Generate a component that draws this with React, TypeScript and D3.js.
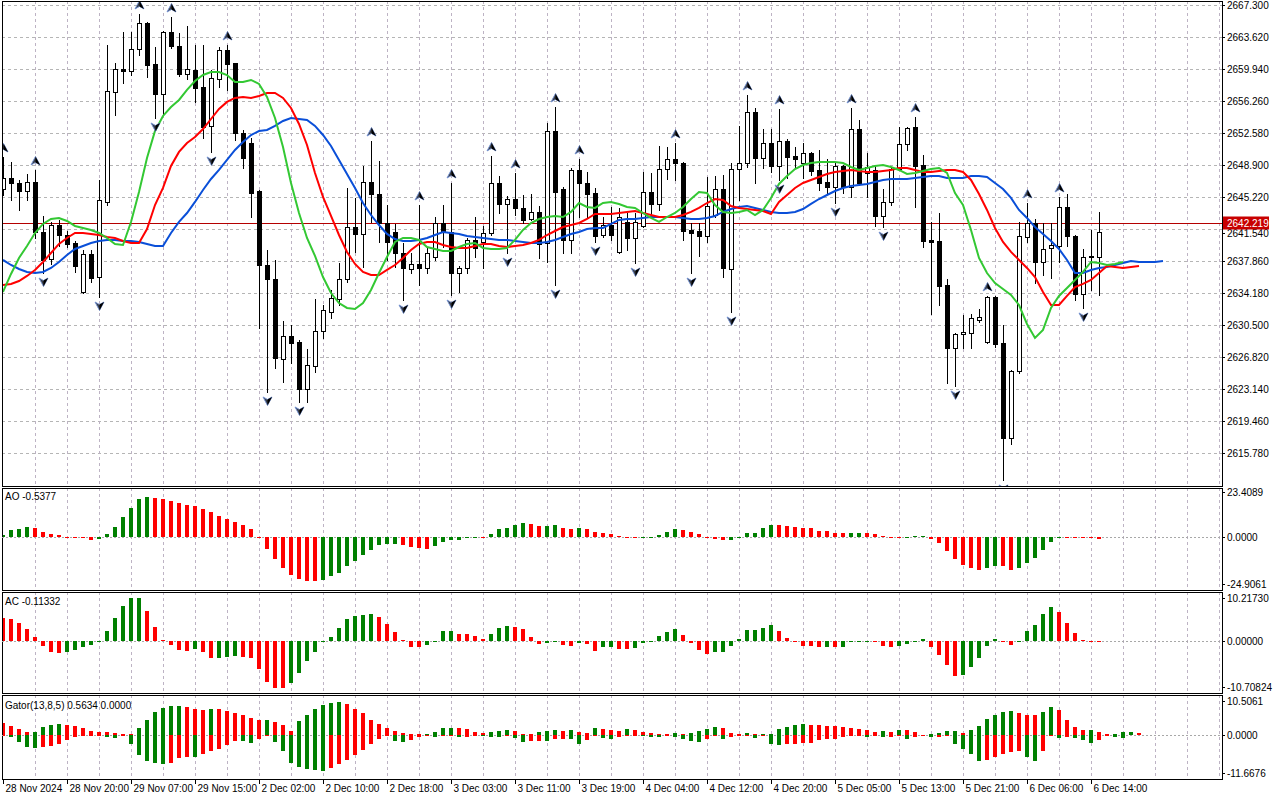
import * as d3 from "d3";

// ---- data (XAUUSD H1, 28 Nov - 6 Dec 2024) ----
const TIME_LABELS = [
  "28 Nov 2024", "28 Nov 20:00", "29 Nov 07:00", "29 Nov 15:00", "2 Dec 02:00", "2 Dec 10:00",
  "2 Dec 18:00", "3 Dec 03:00", "3 Dec 11:00", "3 Dec 19:00", "4 Dec 04:00", "4 Dec 12:00",
  "4 Dec 20:00", "5 Dec 05:00", "5 Dec 13:00", "5 Dec 21:00", "6 Dec 06:00", "6 Dec 14:00",
];
const PRICE_TICKS = [
  2667.3, 2663.62, 2659.94, 2656.26, 2652.58, 2648.9, 2645.22, 2641.54, 2637.86, 2634.18,
  2630.5, 2626.82, 2623.14, 2619.46, 2615.78,
];
const BID = 2642.219;

const OPEN = [
  2646.14, 2647.41, 2646.83, 2645.91, 2646.95, 2641.2, 2638.09, 2642.0, 2640.85, 2639.93,
  2634.3, 2638.67, 2636.02, 2644.65, 2657.3, 2659.94, 2659.71, 2662.24, 2665.23, 2660.52,
  2657.07, 2664.2, 2662.59, 2659.37, 2659.83, 2657.87, 2653.39, 2658.79, 2662.13, 2660.63,
  2652.58, 2651.43, 2645.91, 2637.4, 2635.79, 2626.59, 2629.24, 2628.55, 2623.14, 2625.79,
  2629.81, 2632.0, 2633.49, 2635.79, 2641.77, 2640.97, 2646.95, 2645.57, 2642.23, 2641.2,
  2638.78, 2636.94, 2637.52, 2637.06, 2638.32, 2642.23, 2641.2, 2636.48, 2637.06, 2640.28,
  2640.05, 2641.08, 2646.83, 2644.42, 2644.99, 2643.96, 2642.69, 2643.5, 2639.93, 2652.81,
  2646.14, 2640.28, 2648.33, 2646.83, 2645.68, 2640.85, 2642.0, 2638.9, 2642.35, 2640.51,
  2641.89, 2645.8, 2644.42, 2648.44, 2649.59, 2649.13, 2641.43, 2641.31, 2640.74, 2643.15,
  2646.14, 2636.94, 2648.44, 2649.13, 2654.99, 2649.71, 2651.43, 2648.79, 2651.66, 2649.94,
  2649.13, 2650.28, 2648.33, 2646.95, 2646.37, 2648.79, 2646.37, 2653.04, 2647.98, 2648.33,
  2643.04, 2644.65, 2648.44, 2651.32, 2653.27, 2648.9, 2640.28, 2640.16, 2635.1, 2627.86,
  2629.47, 2629.58, 2631.08, 2628.55, 2633.72, 2628.43, 2617.51, 2625.21, 2640.62, 2642.23,
  2637.75, 2639.36, 2639.59, 2644.07, 2640.74, 2634.07, 2638.32, 2638.32,
];
const HIGH = [
  2649.82, 2649.25, 2647.18, 2647.87, 2648.33, 2643.04, 2642.35, 2642.58, 2641.31, 2640.16,
  2639.13, 2639.13, 2647.18, 2662.7, 2660.63, 2664.2, 2664.2, 2666.27, 2665.35, 2662.47,
  2664.31, 2665.92, 2664.08, 2664.89, 2662.7, 2662.7, 2659.83, 2662.47, 2662.7, 2660.63,
  2652.93, 2652.01, 2646.03, 2639.13, 2637.98, 2630.96, 2630.5, 2628.78, 2627.74, 2633.49,
  2632.8, 2634.53, 2637.63, 2646.26, 2645.11, 2648.79, 2651.66, 2649.36, 2644.3, 2642.12,
  2639.93, 2638.78, 2644.3, 2639.36, 2642.92, 2644.3, 2646.83, 2637.29, 2640.51, 2642.92,
  2641.89, 2649.94, 2647.64, 2645.34, 2647.98, 2645.45, 2645.57, 2644.19, 2653.73, 2655.57,
  2646.37, 2648.56, 2649.59, 2648.1, 2646.26, 2642.92, 2644.07, 2643.96, 2643.38, 2643.38,
  2648.1, 2647.98, 2651.09, 2650.97, 2651.43, 2649.25, 2642.23, 2642.23, 2647.52, 2647.64,
  2647.75, 2649.13, 2653.39, 2656.95, 2655.46, 2653.04, 2653.04, 2655.34, 2651.89, 2650.97,
  2651.43, 2650.4, 2650.63, 2649.59, 2649.13, 2648.9, 2655.46, 2654.08, 2650.28, 2648.9,
  2646.14, 2648.67, 2653.27, 2653.27, 2654.42, 2650.05, 2642.35, 2643.38, 2635.79, 2629.58,
  2631.65, 2631.77, 2632.34, 2633.84, 2633.84, 2630.5, 2625.33, 2642.35, 2644.53, 2642.69,
  2642.23, 2642.23, 2645.22, 2645.57, 2640.85, 2639.24, 2641.43, 2643.5,
];
const LOW = [
  2645.45, 2644.88, 2643.73, 2644.88, 2640.51, 2636.48, 2637.52, 2639.59, 2639.47, 2636.6,
  2634.18, 2635.45, 2633.72, 2644.3, 2654.65, 2658.33, 2659.25, 2661.55, 2659.02, 2654.31,
  2654.65, 2662.36, 2659.14, 2658.79, 2656.15, 2652.01, 2650.4, 2657.87, 2657.53, 2651.78,
  2648.56, 2642.92, 2630.16, 2622.8, 2625.56, 2623.95, 2626.13, 2621.65, 2621.65, 2625.1,
  2629.01, 2631.31, 2632.8, 2635.45, 2638.9, 2637.17, 2642.35, 2640.05, 2637.98, 2637.17,
  2633.38, 2636.48, 2635.1, 2636.48, 2637.98, 2639.47, 2633.95, 2634.3, 2636.48, 2638.32,
  2637.06, 2640.85, 2643.38, 2638.78, 2643.15, 2642.23, 2642.58, 2638.21, 2637.75, 2635.1,
  2638.78, 2638.78, 2642.92, 2642.92, 2640.05, 2640.62, 2640.28, 2638.78, 2639.13, 2637.63,
  2641.77, 2643.27, 2643.73, 2647.29, 2647.18, 2640.28, 2636.48, 2638.44, 2640.05, 2642.9,
  2636.02, 2632.0, 2644.88, 2648.67, 2646.83, 2648.56, 2648.1, 2647.18, 2647.41, 2648.67,
  2647.41, 2647.75, 2646.03, 2645.68, 2644.53, 2645.68, 2645.22, 2646.6, 2645.22, 2641.89,
  2641.77, 2644.3, 2648.33, 2650.63, 2644.07, 2639.47, 2631.77, 2632.8, 2623.83, 2623.49,
  2627.86, 2627.86, 2630.85, 2628.43, 2627.97, 2612.68, 2616.82, 2624.98, 2640.05, 2635.33,
  2636.25, 2635.91, 2637.75, 2639.59, 2633.38, 2632.46, 2634.53, 2633.95,
];
const CLOSE = [
  2647.41, 2646.83, 2645.91, 2646.95, 2641.2, 2637.98, 2642.0, 2640.85, 2639.82, 2637.29,
  2638.67, 2635.91, 2644.88, 2657.41, 2659.94, 2659.71, 2662.24, 2665.23, 2660.4, 2657.07,
  2664.2, 2662.59, 2659.37, 2659.94, 2657.76, 2653.27, 2658.91, 2662.13, 2660.52, 2652.58,
  2649.71, 2645.68, 2637.4, 2635.79, 2626.71, 2629.24, 2628.43, 2623.14, 2625.9, 2629.81,
  2632.23, 2633.61, 2635.79, 2641.77, 2640.97, 2646.95, 2645.57, 2642.23, 2640.05, 2638.78,
  2637.06, 2637.52, 2637.06, 2638.78, 2642.23, 2641.2, 2636.48, 2637.06, 2640.28, 2639.36,
  2641.08, 2646.83, 2644.42, 2644.99, 2643.96, 2642.58, 2643.5, 2639.82, 2652.81, 2645.8,
  2640.28, 2648.33, 2646.83, 2645.57, 2640.74, 2642.0, 2640.85, 2642.92, 2640.51, 2642.35,
  2645.8, 2644.42, 2648.44, 2649.59, 2649.13, 2641.31, 2641.08, 2640.74, 2644.19, 2646.14,
  2637.06, 2648.44, 2649.13, 2654.99, 2649.71, 2651.43, 2648.79, 2651.66, 2649.82, 2649.59,
  2650.28, 2648.21, 2646.83, 2646.37, 2648.79, 2646.37, 2653.04, 2646.83, 2648.67, 2643.04,
  2644.65, 2648.44, 2651.32, 2653.16, 2648.79, 2640.16, 2640.05, 2634.99, 2627.86, 2629.47,
  2629.7, 2631.31, 2631.42, 2633.72, 2628.32, 2617.51, 2625.21, 2640.74, 2642.23, 2637.75,
  2639.24, 2639.7, 2644.07, 2640.74, 2634.07, 2638.32, 2638.44, 2641.2,
];

// Alligator (jaw shifted 8 bars, teeth 5, lips 3 past the last candle)
const JAW = [
  2637.98, 2637.4, 2636.94, 2636.6, 2636.48, 2636.6, 2637.06, 2637.75, 2638.55, 2639.24,
  2639.59, 2639.93, 2640.16, 2640.28, 2640.28, 2640.16, 2640.16, 2640.05, 2639.82, 2639.59,
  2639.59, 2641.08, 2642.35, 2643.38, 2644.65, 2646.03, 2647.29, 2648.33, 2649.48, 2650.63,
  2651.55, 2652.35, 2652.81, 2652.93, 2653.39, 2653.96, 2654.31, 2654.19, 2654.08, 2653.39,
  2652.35, 2651.09, 2649.48, 2647.87, 2646.26, 2644.53, 2643.15, 2642.0, 2640.97, 2640.39,
  2640.16, 2640.16, 2640.28, 2640.51, 2640.85, 2641.2, 2641.08, 2640.97, 2640.74, 2640.62,
  2640.51, 2640.39, 2640.28, 2640.28, 2640.16, 2640.05, 2639.93, 2639.93, 2640.05, 2640.28,
  2640.62, 2640.97, 2641.2, 2641.54, 2641.66, 2641.66, 2642.12, 2642.58, 2642.69, 2642.69,
  2642.81, 2642.92, 2642.92, 2642.92, 2642.92, 2642.81, 2642.69, 2642.69, 2642.81, 2643.04,
  2643.5, 2643.84, 2644.07, 2644.19, 2643.96, 2643.73, 2643.5, 2643.38, 2643.38, 2643.5,
  2643.84, 2644.42, 2644.99, 2645.45, 2645.91, 2646.26, 2646.49, 2646.6, 2646.72, 2646.95,
  2647.18, 2647.29, 2647.29, 2647.29, 2647.41, 2647.52, 2647.64, 2647.64, 2647.41, 2647.41,
  2647.41, 2647.64, 2647.64, 2647.52, 2646.83, 2646.14, 2645.11, 2643.73, 2642.81, 2641.77,
  2640.97, 2640.16, 2639.24, 2637.98, 2636.48, 2636.48, 2636.83, 2637.06, 2637.17, 2637.4,
  2637.63, 2637.86, 2637.75, 2637.75, 2637.75, 2637.86,
];
const TEETH = [
  2635.1, 2635.22, 2635.56, 2636.14, 2636.83, 2637.75, 2638.78, 2639.82, 2640.51, 2641.08,
  2641.08, 2640.97, 2640.85, 2640.62, 2640.51, 2640.16, 2639.93, 2639.93, 2641.54, 2644.3,
  2646.26, 2648.79, 2650.4, 2651.43, 2652.12, 2653.04, 2654.19, 2655.34, 2656.15, 2656.61,
  2656.72, 2656.61, 2656.84, 2657.18, 2657.18, 2656.61, 2655.46, 2653.62, 2651.2, 2647.98,
  2645.22, 2643.04, 2640.85, 2638.9, 2637.52, 2636.6, 2636.25, 2636.25, 2636.83, 2637.4,
  2638.21, 2639.13, 2639.82, 2640.05, 2640.05, 2639.7, 2639.47, 2639.36, 2639.36, 2639.59,
  2639.82, 2639.82, 2639.59, 2639.47, 2639.59, 2639.7, 2639.93, 2640.28, 2640.85, 2641.31,
  2641.77, 2642.0, 2642.23, 2642.69, 2643.27, 2643.27, 2643.27, 2643.38, 2643.5, 2643.61,
  2643.38, 2643.15, 2642.92, 2642.92, 2642.92, 2643.15, 2643.5, 2643.96, 2644.53, 2644.99,
  2644.88, 2644.19, 2643.96, 2643.84, 2643.73, 2643.61, 2643.27, 2644.65, 2645.45, 2646.26,
  2646.83, 2647.18, 2647.52, 2647.87, 2648.1, 2648.21, 2648.33, 2648.21, 2648.1, 2648.1,
  2648.21, 2648.33, 2648.56, 2648.56, 2648.33, 2648.1, 2648.1, 2648.21, 2648.33, 2648.33,
  2648.1, 2647.18, 2645.57, 2643.73, 2641.66, 2640.05, 2638.9, 2637.98, 2637.06, 2636.02,
  2634.3, 2632.8, 2632.8, 2633.84, 2634.87, 2635.22, 2635.68, 2636.48, 2637.29, 2637.17,
  2637.06, 2637.17, 2637.29,
];
const LIPS = [
  2634.3, 2636.37, 2638.21, 2639.59, 2641.08, 2642.12, 2642.69, 2642.81, 2642.46, 2641.89,
  2641.66, 2641.43, 2641.08, 2640.51, 2639.82, 2639.7, 2642.35, 2645.8, 2649.71, 2652.81,
  2654.54, 2655.57, 2656.38, 2657.53, 2658.56, 2659.25, 2659.6, 2659.6, 2659.25, 2658.45,
  2658.45, 2658.68, 2658.22, 2656.72, 2654.31, 2650.97, 2646.83, 2643.38, 2640.51, 2638.44,
  2636.02, 2634.18, 2633.03, 2632.46, 2632.34, 2633.03, 2634.53, 2636.48, 2638.32, 2640.05,
  2640.51, 2640.51, 2640.28, 2639.47, 2639.24, 2639.01, 2639.01, 2639.47, 2639.82, 2639.93,
  2639.36, 2639.24, 2639.24, 2639.36, 2640.28, 2641.43, 2642.23, 2642.69, 2642.92, 2643.04,
  2642.92, 2643.5, 2644.53, 2644.07, 2643.96, 2644.53, 2644.65, 2644.42, 2644.07, 2643.96,
  2643.38, 2642.81, 2642.35, 2642.92, 2643.38, 2644.07, 2644.99, 2645.8, 2645.68, 2644.3,
  2643.5, 2643.38, 2643.5, 2643.73, 2643.15, 2643.73, 2645.11, 2646.72, 2647.64, 2648.44,
  2648.9, 2649.13, 2649.25, 2649.25, 2649.25, 2649.13, 2648.67, 2648.33, 2648.56, 2648.79,
  2648.9, 2648.67, 2648.33, 2647.87, 2647.98, 2648.21, 2648.44, 2648.56, 2647.98, 2645.68,
  2644.3, 2641.43, 2638.21, 2636.48, 2635.33, 2634.64, 2633.95, 2632.8, 2630.62, 2629.01,
  2629.93, 2632.46, 2633.84, 2634.76, 2635.68, 2636.6, 2637.75, 2637.63, 2637.4, 2637.52,
  2637.75,
];

const FRACTAL_UP = [0, 4, 17, 21, 28, 46, 52, 56, 61, 64, 69, 72, 84, 93, 97, 106, 114, 123, 128, 132];
const FRACTAL_DOWN = [5, 12, 19, 26, 33, 37, 50, 56, 63, 69, 74, 79, 86, 91, 97, 104, 110, 119, 125, 135];

const AO = [
  1.3, 3.7, 4.2, 5.4, 4.9, 2.9, 1.5, 1.0, 0.2, -0.3,
  -0.4, -1.1, -0.6, 1.5, 5.4, 10.2, 14.6, 19.0, 20.0, 19.3,
  19.0, 18.2, 17.1, 15.8, 15.6, 14.1, 12.4, 10.4, 8.9, 7.5,
  6.0, 4.1, -0.2, -5.9, -10.7, -15.0, -18.5, -20.3, -21.3, -21.4,
  -20.8, -19.0, -17.4, -14.0, -11.5, -8.6, -6.0, -3.7, -3.3, -3.2,
  -3.9, -4.9, -5.4, -5.5, -4.2, -2.3, -1.4, -1.2, -0.2, -0.1,
  -0.3, 1.5, 4.1, 4.9, 6.3, 7.3, 6.8, 5.5, 5.9, 6.0,
  4.7, 4.4, 4.9, 4.2, 2.5, 2.4, 1.8, 0.8, -0.1, -0.2,
  -0.1, 0.1, 1.3, 2.9, 4.4, 3.9, 2.9, 1.5, -0.1, -0.6,
  -1.1, -1.0, 0.0, 2.0, 2.4, 4.6, 6.3, 6.2, 5.8, 5.4,
  4.7, 4.5, 3.4, 3.3, 2.4, 2.0, 2.05, 2.4, 2.35, 1.8,
  0.7, 0.3, 0.0, 0.2, 0.6, 0.65, -0.6, -2.8, -6.5, -10.6,
  -13.7, -14.8, -15.9, -15.0, -14.1, -14.2, -15.9, -14.8, -12.4, -10.1,
  -6.0, -2.1, -0.1, -0.2, -0.3, -0.4, -0.45, -0.5377,
];
const AC = [
  5.0, 4.9, 4.0, 2.6, 0.9, -1.1, -2.2, -2.5, -2.2, -1.9,
  -1.3, -0.8, -0.2, 2.3, 5.1, 7.6, 9.3, 9.35, 6.5, 3.0,
  0.2, -0.8, -1.9, -2.0, -1.6, -2.3, -3.6, -3.55, -3.4, -3.2,
  -3.4, -3.6, -6.0, -8.8, -10.0, -10.05, -9.0, -6.9, -4.3, -2.2,
  0.0, 1.0, 2.9, 4.9, 5.4, 5.6, 5.8, 5.3, 3.7, 2.1,
  0.2, -1.2, -1.3, -0.8, 0.05, 2.2, 2.3, 1.6, 1.55, 1.2,
  0.5, 1.6, 2.9, 3.3, 3.2, 2.6, 0.9, -0.5, -0.3, 0.0,
  -0.8, -1.1, -0.3, -0.6, -2.0, -1.3, -1.25, -1.55, -1.6, -1.5,
  -0.3, 0.15, 1.2, 2.1, 2.6, 1.4, -0.4, -1.8, -2.7, -2.25,
  -2.2, -1.1, 0.6, 2.4, 2.45, 2.9, 3.5, 2.3, 0.8, -0.2,
  -0.9, -0.95, -1.2, -1.15, -1.3, -1.2, -0.2, 0.0, 0.05, -0.1,
  -0.9, -1.3, -1.1, -0.5, 0.1, 0.45, -1.3, -2.9, -5.1, -7.4,
  -7.2, -5.6, -3.6, -1.1, 0.6, -0.1, -0.8, 0.0, 2.2, 3.5,
  5.9, 7.4, 6.3, 3.9, 1.8, 0.2, 0.15, -0.11332,
];
const GATOR_UP = [
  3.1, 2.4, 1.6, 0.7, 0.8, 2.2, 2.6, 2.9, 2.6, 2.5,
  1.8, 1.1, 0.9, 0.8, 0.5, 0.3, 0.25, 1.8, 3.9, 6.1,
  7.2, 7.7, 7.8, 7.5, 6.9, 6.85, 7.1, 6.9, 6.4, 5.9,
  5.3, 4.5, 4.1, 4.15, 3.4, 2.6, 1.1, 3.7, 5.5, 6.9,
  8.2, 8.7, 8.75, 8.4, 7.0, 5.8, 4.1, 2.9, 1.9, 1.1,
  0.4, 0.2, 0.15, 0.3, 0.9, 1.9, 1.95, 1.75, 1.5, 0.7,
  0.5, 0.8, 1.05, 1.2, 1.05, 0.2, 0.1, 0.9, 1.15, 1.2,
  1.15, 1.3, 0.7, 0.6, 1.85, 1.5, 1.2, 1.05, 1.6, 1.3,
  0.8, 0.45, 0.3, 0.2, 0.4, 0.3, 0.45, 1.0, 1.7, 2.1,
  1.8, 0.45, 0.3, 0.5, 0.1, 0.2, 0.3, 1.7, 2.2, 2.6,
  2.9, 2.6, 2.55, 2.5, 2.4, 2.0, 1.8, 1.6, 1.4, 0.9,
  1.05, 0.9, 1.4, 1.3, 0.8, 0.05, 0.25, 0.5, 1.05, 1.06,
  0.5, 1.3, 2.4, 4.2, 5.5, 6.3, 6.35, 5.8, 5.5, 5.3,
  6.3, 7.4, 6.6, 4.0, 2.1, 1.3, 1.35, 0.8, 0.26, 0.27,
  0.8, 0.82, 0.5634,
];
const GATOR_DOWN = [
  -0.3, -0.5, -2.0, -3.3, -3.5, -3.3, -2.9, -2.55, -1.3, -0.45,
  -0.25, -0.1, -0.1, -0.6, -0.9, -0.3, -2.5, -5.45, -7.0, -7.65,
  -7.75, -7.5, -6.3, -6.0, -6.05, -5.3, -4.4, -3.8, -2.8, -1.6,
  -1.7, -2.2, -1.1, -0.2, -1.9, -4.4, -7.5, -8.6, -9.2, -9.4,
  -9.7, -9.0, -7.9, -6.7, -5.4, -4.0, -2.6, -1.2, -0.2, -1.75,
  -2.0, -1.3, -0.5, -0.1, -0.6, -0.2, -0.1, -0.7, -0.6, -0.1,
  -0.2, -0.45, -0.5, -0.1, -0.9, -1.9, -1.6, -1.6, -1.75, -1.2,
  -1.0, -1.05, -2.5, -1.3, -0.2, -0.9, -1.1, -0.6, -0.2, -0.05,
  -0.2, -0.45, -0.6, -0.1, -0.6, -1.0, -1.6, -2.0, -1.2, -0.35,
  -1.2, -0.6, -0.2, -0.05, -0.9, -0.35, -2.55, -2.7, -2.5, -2.4,
  -2.2, -2.1, -1.5, -1.2, -1.05, -0.6, -0.3, -0.1, -0.45, -0.3,
  -0.6, -0.5, -0.1, -1.05, -0.7, -0.05, -0.7, -0.45, -0.05, -2.6,
  -3.7, -5.3, -7.1, -6.8, -6.1, -5.3, -4.75, -4.5, -6.1, -7.1,
  -4.5, -0.2, -0.8, -0.7, -0.8, -1.3, -2.1, -1.3, -0.05, -0.45,
  -0.8,
];

const AO_RANGE = [-24.9061, 23.4089];
const AC_RANGE = [-10.70824, 10.2173];
const GATOR_RANGE = [-11.6676, 10.5061];

// ---- layout ----
const W = 1280;
const H = 800;
const LEFT = 2;
const RIGHT = 1222;
const MAIN = { top: 1, bottom: 486 };
const AO_P = { top: 488, bottom: 590 };
const AC_P = { top: 592, bottom: 693 };
const GT_P = { top: 695, bottom: 779 };

const FONT = "'Liberation Sans', Arial, sans-serif";
const GREEN = "#008000";
const RED = "#ff0000";
const GRID = "#bdb3c4";

const x = d3.scaleLinear().domain([0, 137]).range([3, 1099]);
const yPrice = d3.scaleLinear().domain([2615.78, 2667.3]).range([453, 5]);
const yAO = d3.scaleLinear().domain(AO_RANGE).range([588, 490]);
const yAC = d3.scaleLinear().domain(AC_RANGE).range([691, 594]);
const yGT = d3.scaleLinear().domain(GATOR_RANGE).range([778, 696]);

function risingColor(vals: number[], i: number, firstUp: boolean, useAbs = false) {
  if (i === 0) return firstUp ? GREEN : RED;
  const a = useAbs ? Math.abs(vals[i]) : vals[i];
  const b = useAbs ? Math.abs(vals[i - 1]) : vals[i - 1];
  return a > b ? GREEN : RED;
}

function Histogram({
  values,
  scale,
  firstUp,
  useAbs,
}: {
  values: number[];
  scale: d3.ScaleLinear<number, number>;
  firstUp: boolean;
  useAbs?: boolean;
}) {
  const zero = Math.round(scale(0));
  return (
    <g shapeRendering="crispEdges">
      {values.map((v, i) => {
        const cx = Math.round(x(i));
        const yv = Math.round(scale(v));
        const top = Math.min(zero, yv);
        const h = Math.max(1, Math.abs(yv - zero));
        return (
          <rect
            key={i}
            x={cx - 2}
            y={top}
            width={4}
            height={h}
            fill={risingColor(values, i, firstUp, useAbs)}
          />
        );
      })}
    </g>
  );
}

function PanelFrame({ top, bottom }: { top: number; bottom: number }) {
  const verticals = d3.range(4, 153, 4).map((k) => Math.round(x(k)) + 0.5);
  return (
    <g shapeRendering="crispEdges">
      {verticals.map((vx) => (
        <line
          key={vx}
          x1={vx}
          x2={vx}
          y1={top}
          y2={bottom}
          stroke={GRID}
          strokeDasharray="3,3"
        />
      ))}
      <rect
        x={LEFT + 0.5}
        y={top + 0.5}
        width={RIGHT - LEFT}
        height={bottom - top}
        fill="none"
        stroke="#000"
      />
    </g>
  );
}

// fractal marker: dark arrowhead with a notch, bluish edge
function Arrow({ cx, cy, up }: { cx: number; cy: number; up: boolean }) {
  const s = up ? 1 : -1;
  const d = `M${cx},${cy - 4.5 * s} L${cx + 4.5},${cy + 4 * s} L${cx},${cy + 1.5 * s} L${cx - 4.5},${cy + 4 * s} Z`;
  const right = `M${cx},${cy - 4.5 * s} L${cx + 4.5},${cy + 4 * s} L${cx},${cy + 1.5 * s} Z`;
  return (
    <g>
      <path d={d} fill="#3a3f4a" stroke="#6f8fd0" strokeWidth={0.9} strokeLinejoin="round" />
      <path d={right} fill="#000" />
    </g>
  );
}

function AxisLabels({
  labels,
}: {
  labels: { text: string; y: number }[];
}) {
  return (
    <g fontFamily={FONT} fontSize={10} fill="#000">
      {labels.map((l) => (
        <g key={l.text}>
          <line x1={RIGHT} x2={RIGHT + 3} y1={l.y - 3.5} y2={l.y - 3.5} stroke="#000" />
          <text x={RIGHT + 5} y={l.y}>
            {l.text}
          </text>
        </g>
      ))}
    </g>
  );
}

export default function App() {
  const line = (scaleY: (v: number) => number) =>
    d3
      .line<number>()
      .x((_, i) => x(i))
      .y((d) => scaleY(d));

  const priceLine = line(yPrice);
  const hGrid = PRICE_TICKS.map((p) => Math.round(yPrice(p)) + 0.5);
  const bidY = Math.round(yPrice(BID)) + 0.5;

  return (
    <div style={{ width: W, height: H, background: "#fff" }}>
      <style>{"body{margin:0;}"}</style>
      <svg width={W} height={H} style={{ display: "block", background: "#fff" }}>
        <defs>
          <clipPath id="main-clip">
            <rect x={LEFT + 1} y={MAIN.top + 1} width={RIGHT - LEFT - 1} height={MAIN.bottom - MAIN.top - 1} />
          </clipPath>
          <clipPath id="ind-clip">
            <rect x={LEFT + 1} y={0} width={RIGHT - LEFT - 1} height={H} />
          </clipPath>
        </defs>

        {/* main price panel */}
        <g shapeRendering="crispEdges">
          {hGrid.map((gy) => (
            <line key={gy} x1={LEFT} x2={RIGHT} y1={gy} y2={gy} stroke="#b5b5b5" strokeDasharray="3,3" />
          ))}
        </g>
        <PanelFrame top={MAIN.top} bottom={MAIN.bottom} />

        <g clipPath="url(#main-clip)">
          <line x1={LEFT} x2={RIGHT} y1={bidY} y2={bidY} stroke="#b40000" shapeRendering="crispEdges" />

          <g shapeRendering="crispEdges">
            {OPEN.map((o, i) => {
              const cx = Math.round(x(i));
              const c = CLOSE[i];
              const yo = Math.round(yPrice(o));
              const yc = Math.round(yPrice(c));
              const yh = Math.round(yPrice(HIGH[i]));
              const yl = Math.round(yPrice(LOW[i]));
              const bull = c >= o;
              return (
                <g key={i}>
                  <line x1={cx + 0.5} x2={cx + 0.5} y1={yh} y2={yl + 1} stroke="#000" />
                  {bull ? (
                    <rect
                      x={cx - 2 + 0.5}
                      y={yc + 0.5}
                      width={4}
                      height={Math.max(1, yo - yc)}
                      fill="#fff"
                      stroke="#000"
                    />
                  ) : (
                    <rect x={cx - 2} y={yo} width={5} height={Math.max(1, yc - yo + 1)} fill="#000" />
                  )}
                </g>
              );
            })}
          </g>

          <path d={priceLine(JAW) ?? ""} fill="none" stroke="#0a4fd8" strokeWidth={2} />
          <path d={priceLine(TEETH) ?? ""} fill="none" stroke="#ff0000" strokeWidth={2} />
          <path d={priceLine(LIPS) ?? ""} fill="none" stroke="#33c833" strokeWidth={2} />

          {FRACTAL_UP.map((i) => (
            <Arrow key={`u${i}`} cx={x(i) + 0.5} cy={yPrice(HIGH[i]) - 9} up />
          ))}
          {FRACTAL_DOWN.map((i) => (
            <Arrow key={`d${i}`} cx={x(i) + 0.5} cy={yPrice(LOW[i]) + 9} up={false} />
          ))}
        </g>

        <AxisLabels
          labels={PRICE_TICKS.map((p) => ({
            text: p.toFixed(3),
            // the label just under the bid tag sits a little lower, as it peeks out below the tag
            y: Math.round(yPrice(p)) + (Math.abs(p - BID) < 1.5 ? 8 : 4),
          }))}
        />
        <g fontFamily={FONT} fontSize={10}>
          <rect x={RIGHT + 1} y={bidY - 7} width={46} height={13} fill="#c80000" />
          <text x={RIGHT + 5} y={bidY + 3.5} fill="#fff">
            {BID.toFixed(3)}
          </text>
        </g>

        {/* AO */}
        <PanelFrame top={AO_P.top} bottom={AO_P.bottom} />
        <line x1={LEFT} x2={RIGHT} y1={Math.round(yAO(0)) + 0.5} y2={Math.round(yAO(0)) + 0.5} stroke="#a8a8a8" strokeDasharray="2,2" />
        <g clipPath="url(#ind-clip)">
          <Histogram values={AO} scale={yAO} firstUp />
        </g>
        <text x={5} y={500} fontFamily={FONT} fontSize={10}>
          AO {AO[AO.length - 1].toFixed(4)}
        </text>
        <AxisLabels
          labels={[
            { text: AO_RANGE[1].toFixed(4), y: AO_P.top + 8 },
            { text: "0.0000", y: Math.round(yAO(0)) + 4 },
            { text: AO_RANGE[0].toFixed(4), y: AO_P.bottom - 2 },
          ]}
        />

        {/* AC */}
        <PanelFrame top={AC_P.top} bottom={AC_P.bottom} />
        <line x1={LEFT} x2={RIGHT} y1={Math.round(yAC(0)) + 0.5} y2={Math.round(yAC(0)) + 0.5} stroke="#a8a8a8" strokeDasharray="2,2" />
        <g clipPath="url(#ind-clip)">
          <Histogram values={AC} scale={yAC} firstUp={false} />
        </g>
        <text x={5} y={605} fontFamily={FONT} fontSize={10}>
          AC {AC[AC.length - 1].toFixed(5)}
        </text>
        <AxisLabels
          labels={[
            { text: AC_RANGE[1].toFixed(5), y: AC_P.top + 10 },
            { text: "0.00000", y: Math.round(yAC(0)) + 4 },
            { text: AC_RANGE[0].toFixed(5), y: AC_P.bottom - 2 },
          ]}
        />

        {/* Gator */}
        <PanelFrame top={GT_P.top} bottom={GT_P.bottom} />
        <line x1={LEFT} x2={RIGHT} y1={Math.round(yGT(0)) + 0.5} y2={Math.round(yGT(0)) + 0.5} stroke="#a8a8a8" strokeDasharray="2,2" />
        <g clipPath="url(#ind-clip)">
          <Histogram values={GATOR_UP} scale={yGT} firstUp={false} useAbs />
          <Histogram values={GATOR_DOWN} scale={yGT} firstUp={false} useAbs />
        </g>
        <text x={5} y={709} fontFamily={FONT} fontSize={10}>
          {`Gator(13,8,5) ${GATOR_UP[GATOR_UP.length - 1].toFixed(4)} 0.0000`}
        </text>
        <AxisLabels
          labels={[
            { text: GATOR_RANGE[1].toFixed(4), y: GT_P.top + 10 },
            { text: "0.0000", y: Math.round(yGT(0)) + 4 },
            { text: GATOR_RANGE[0].toFixed(4), y: GT_P.bottom - 2 },
          ]}
        />

        {/* time axis */}
        <g fontFamily={FONT} fontSize={10} shapeRendering="crispEdges">
          {TIME_LABELS.map((t, i) => {
            const tx = Math.round(x(i * 8)) + 0.5;
            return (
              <g key={t}>
                <line x1={tx} x2={tx} y1={GT_P.bottom} y2={GT_P.bottom + 5} stroke="#000" />
                <text x={tx + 2} y={792}>
                  {t}
                </text>
              </g>
            );
          })}
        </g>
      </svg>
    </div>
  );
}
